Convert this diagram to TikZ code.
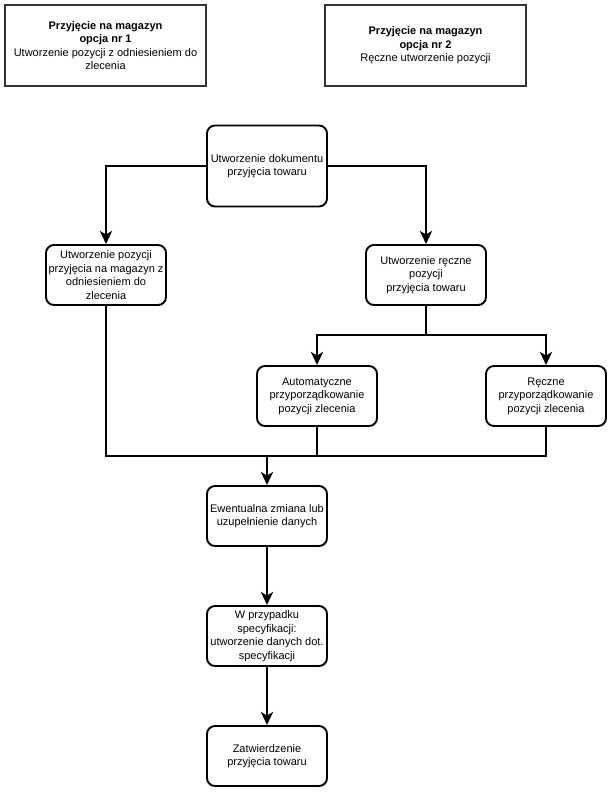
\documentclass[tikz,border=0pt]{standalone}
\usepackage{fontspec}
\setmainfont{Liberation Sans}
\usetikzlibrary{arrows.meta}
\begin{document}
\begin{tikzpicture}[x=1pt,y=-1pt,
  every node/.style={font=\fontsize{11}{13.5}\selectfont, align=center, inner sep=0pt},
  topbox/.style={draw=black!80, line width=2pt, minimum width=201pt, minimum height=81pt},
  procbox/.style={draw=black, line width=1.9pt, rounded corners=8pt, minimum width=120pt, minimum height=60pt},
  conn/.style={line width=2.7pt},
  arr/.style={conn, -{Stealth[length=13pt,width=12pt,inset=3.5pt]}}
]
\useasboundingbox (0,0) rectangle (613,793);
\node[topbox] (opt1) at (105.5,45.5) {\textbf{Przyjęcie na magazyn}\\\textbf{opcja nr 1}\\Utworzenie pozycji z odniesieniem do\\zlecenia};
\node[topbox] (opt2) at (425.5,45.5) {\textbf{Przyjęcie na magazyn}\\\textbf{opcja nr 2}\\Ręczne utworzenie pozycji};

\node[procbox, minimum height=81pt] (doc) at (267,166) {Utworzenie dokumentu\\przyjęcia towaru};
\node[procbox] (left) at (106,275) {Utworzenie pozycji\\przyjęcia na magazyn z\\odniesieniem do\\zlecenia};
\node[procbox] (right) at (426,275) {Utworzenie ręczne\\pozycji\\przyjęcia towaru};
\node[procbox] (auto) at (317,396) {Automatyczne\\przyporządkowanie\\pozycji zlecenia};
\node[procbox] (man) at (546,396) {Ręczne\\przyporządkowanie\\pozycji zlecenia};
\node[procbox] (ew) at (267,516) {Ewentualna zmiana lub\\uzupełnienie danych};
\node[procbox] (spec) at (267,636) {W przypadku\\specyfikacji:\\utworzenie danych dot.\\specyfikacji};
\node[procbox] (zat) at (267,756) {Zatwierdzenie\\przyjęcia towaru};

\coordinate (split) at (426,335);
\coordinate (merge) at (267,456);

\draw[arr] (doc.west) -| (left.north);
\draw[arr] (doc.east) -| (right.north);
\draw[conn] (right.south) -- (split);
\draw[arr] (split) -| (auto.north);
\draw[arr] (split) -| (man.north);
\draw[conn] (left.south) |- (merge);
\draw[conn] (auto.south) |- (merge);
\draw[conn] (man.south) |- (merge);
\draw[arr] (merge) -- (ew.north);
\draw[arr] (ew.south) -- (spec.north);
\draw[arr] (spec.south) -- (zat.north);
\end{tikzpicture}
\end{document}
